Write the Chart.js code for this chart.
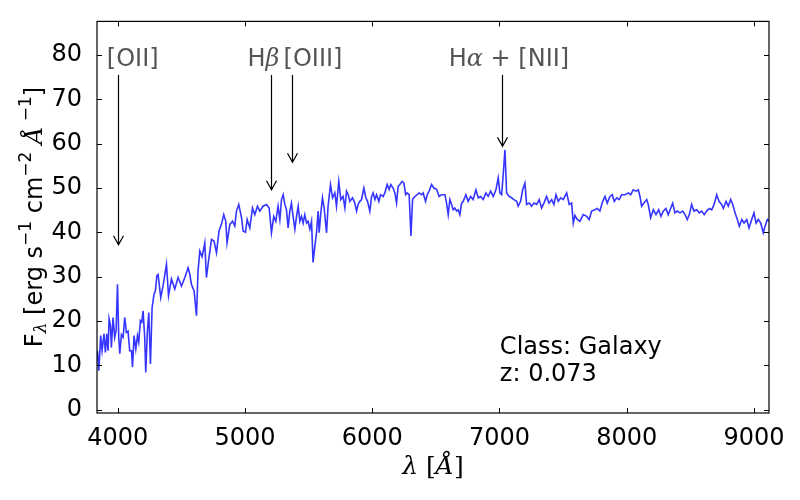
<!DOCTYPE html>
<html>
<head>
<meta charset="utf-8">
<script src="https://cdn.jsdelivr.net/npm/chart.js@4.4.1/dist/chart.umd.min.js"></script>
<style>
  body { margin: 0; background: #fff; }
</style>
</head>
<body>
<canvas id="spectrum" width="800" height="500"></canvas>
<script>
// wavelength in Angstrom, flux in erg s^-1 cm^-2 A^-1
var wavelength = [
  3840, 3851, 3866, 3877, 3892, 3903, 3914, 3924, 3932, 3943, 3950, 3963, 3976, 3987, 3998,
  4008, 4016, 4029, 4042, 4055, 4068, 4081, 4094, 4108, 4116, 4128, 4142, 4155, 4165, 4178,
  4189, 4199, 4212, 4220, 4233, 4244, 4257, 4270, 4285, 4296, 4307, 4317, 4338, 4356, 4383,
  4399, 4422, 4448, 4474, 4501, 4527, 4553, 4566, 4579, 4600, 4619, 4631, 4645, 4663, 4684,
  4697, 4715, 4737, 4757, 4776, 4796, 4815, 4833, 4849, 4859, 4881, 4902, 4920, 4933, 4951,
  4973, 4985, 5004, 5017, 5038, 5059, 5077, 5098, 5116, 5142, 5169, 5190, 5208, 5226, 5242,
  5260, 5274, 5287, 5300, 5313, 5326, 5339, 5352, 5365, 5378, 5392, 5405, 5418, 5431, 5444,
  5457, 5470, 5484, 5496, 5510, 5523, 5535, 5549, 5562, 5575, 5583, 5596, 5609, 5622, 5641,
  5653, 5672, 5688, 5706, 5719, 5737, 5753, 5771, 5785, 5798, 5811, 5824, 5845, 5863, 5877,
  5889, 5903, 5916, 5934, 5950, 5963, 5981, 5995, 6007, 6021, 6034, 6052, 6065, 6086, 6099,
  6117, 6133, 6146, 6164, 6178, 6191, 6204, 6217, 6235, 6249, 6262, 6274, 6290, 6304, 6317,
  6335, 6353, 6369, 6388, 6400, 6419, 6432, 6447, 6466, 6484, 6506, 6526, 6545, 6571, 6584,
  6597, 6610, 6624, 6636, 6649, 6663, 6675, 6689, 6702, 6715, 6736, 6754, 6773, 6793, 6815,
  6833, 6852, 6872, 6893, 6911, 6930, 6951, 6972, 6990, 7003, 7017, 7029, 7043, 7056, 7076,
  7095, 7113, 7135, 7147, 7166, 7182, 7200, 7213, 7234, 7252, 7271, 7292, 7312, 7331, 7349,
  7370, 7389, 7410, 7428, 7444, 7462, 7481, 7501, 7528, 7548, 7567, 7580, 7593, 7611, 7632,
  7658, 7685, 7705, 7724, 7750, 7768, 7789, 7811, 7829, 7847, 7868, 7886, 7902, 7921, 7941,
  7960, 7986, 8012, 8031, 8051, 8073, 8091, 8104, 8117, 8135, 8157, 8169, 8188, 8209, 8230,
  8251, 8269, 8287, 8308, 8326, 8345, 8361, 8379, 8397, 8418, 8440, 8458, 8476, 8492, 8510,
  8528, 8550, 8570, 8589, 8609, 8628, 8649, 8668, 8686, 8707, 8725, 8746, 8759, 8780, 8798,
  8817, 8833, 8851, 8869, 8885, 8904, 8922, 8943, 8961, 8982, 9000, 9016, 9034, 9053, 9073,
  9087, 9105, 9118
];
var flux = [
  13.3, 8.8, 16.7, 13.3, 17.1, 12.9, 17.1, 13.3, 20.5, 18.9, 14.0, 20.8, 16.3, 17.8, 28.3,
  16.3, 12.6, 16.9, 16.3, 20.8, 17.4, 17.7, 13.3, 13.3, 9.6, 16.7, 13.7, 16.7, 15.2, 20.1,
  19.7, 22.3, 16.3, 8.4, 17.7, 21.9, 10.3, 23.0, 26.0, 26.8, 30.2, 30.5, 25.3, 27.9, 32.8,
  25.7, 29.5, 27.2, 29.8, 27.9, 29.8, 32.0, 30.6, 28.3, 26.8, 21.2, 31.3, 35.8, 34.5, 37.6,
  29.8, 33.9, 38.4, 38.0, 35.4, 40.3, 41.8, 44.0, 42.5, 37.6, 41.8, 42.5, 41.4, 44.8, 46.3,
  43.3, 40.3, 40.0, 42.9, 41.0, 45.5, 44.0, 45.9, 44.8, 45.9, 46.3, 45.5, 39.9, 43.6, 42.5,
  45.9, 42.9, 47.4, 48.5, 46.3, 45.1, 41.0, 44.8, 46.6, 43.6, 40.7, 43.6, 45.9, 42.5, 43.6,
  42.1, 44.0, 42.1, 42.5, 40.7, 42.5, 33.2, 36.9, 39.9, 44.8, 39.9, 44.4, 47.8, 45.5, 39.9,
  45.9, 50.8, 47.8, 48.9, 45.9, 51.5, 47.4, 48.1, 45.5, 49.3, 48.5, 47.0, 47.8, 46.6, 44.8,
  46.3, 47.0, 47.4, 50.0, 47.8, 47.0, 44.8, 48.1, 48.9, 47.4, 48.5, 47.0, 48.5, 48.1, 48.9,
  50.8, 49.7, 50.8, 50.0, 48.9, 46.6, 50.4, 50.8, 51.5, 51.1, 48.5, 48.9, 48.5, 39.2, 47.4,
  48.1, 48.5, 48.9, 48.5, 48.9, 47.0, 48.5, 49.3, 50.8, 50.0, 49.7, 48.1, 48.5, 48.5, 46.6,
  44.0, 47.4, 46.3, 45.1, 45.5, 44.8, 45.1, 44.0, 46.6, 47.0, 48.5, 47.0, 48.1, 47.4, 49.6,
  47.8, 48.1, 47.4, 48.9, 48.1, 49.3, 48.1, 49.6, 52.3, 48.9, 48.5, 53.0, 58.6, 48.9, 48.1,
  47.8, 47.4, 47.0, 45.9, 47.0, 49.6, 51.1, 46.3, 46.6, 45.9, 46.6, 46.3, 47.4, 45.5, 46.6,
  48.1, 46.6, 47.4, 46.3, 48.5, 47.0, 47.8, 47.4, 48.9, 46.3, 46.6, 42.1, 43.8, 42.9, 42.5,
  44.0, 43.6, 42.9, 44.8, 45.1, 45.4, 44.8, 47.0, 48.1, 46.6, 48.1, 48.5, 47.0, 47.8, 47.4,
  48.5, 48.5, 48.9, 48.5, 49.6, 49.3, 49.6, 48.1, 45.9, 46.6, 47.4, 46.3, 43.3, 45.1, 44.0,
  45.1, 43.6, 44.8, 45.4, 44.0, 45.4, 46.6, 44.4, 44.8, 44.4, 44.8, 44.0, 42.9, 44.0, 46.3,
  44.8, 45.1, 44.4, 44.8, 44.0, 44.8, 45.4, 45.1, 46.3, 48.5, 47.0, 46.3, 45.4, 47.0, 45.9,
  47.4, 46.3, 44.4, 42.9, 41.4, 42.9, 42.1, 42.9, 41.0, 42.9, 44.4, 42.1, 42.9, 42.1, 39.9,
  41.4, 42.9, 42.5
];
var xTicks = [4000, 5000, 6000, 7000, 8000, 9000];
var yTicks = [0, 10, 20, 30, 40, 50, 60, 70, 80];

// emission line markers: arrow x, arrow top, arrow tip (data units)
var arrows = [
  { x: 4002, top: 75.5, tip: 37.2 },
  { x: 5208, top: 75.5, tip: 49.6 },
  { x: 5366, top: 75.5, tip: 55.8 },
  { x: 7017, top: 75.5, tip: 59.4 }
];

var SANS = "24px 'DejaVu Sans'";
var SANS_SMALL = "17px 'DejaVu Sans'";
var MATH_IT = "italic 24px 'DejaVu Serif'";

var lineLabels = [
  { x: 4118, y: 78.9, align: 'center', parts: [['[OII]', SANS]] },
  { x: 5020, y: 78.9, align: 'left', parts: [['H', SANS], ['\u03b2', MATH_IT]] },
  { x: 5303, y: 78.9, align: 'left', parts: [['[OIII]', SANS]] },
  { x: 6601, y: 78.9, align: 'left', parts: [['H', SANS], ['\u03b1', MATH_IT], [' + [NII]', SANS]] }
];

function partsWidth(ctx, parts) {
  var w = 0;
  parts.forEach(function (p) { ctx.font = p[1]; w += ctx.measureText(p[0]).width; });
  return w;
}

function drawParts(ctx, parts, x, y, align) {
  var w = partsWidth(ctx, parts);
  var cx = align === 'center' ? x - w / 2 : x;
  ctx.textAlign = 'left';
  ctx.textBaseline = 'middle';
  parts.forEach(function (p) {
    ctx.font = p[1];
    ctx.fillText(p[0], cx, y + (p[2] || 0));
    cx += ctx.measureText(p[0]).width;
  });
}

var decorations = {
  id: 'decorations',
  afterDraw: function (chart) {
    var ctx = chart.ctx;
    var a = chart.chartArea;
    var xs = chart.scales.x, ys = chart.scales.y;
    ctx.save();

    // frame
    ctx.strokeStyle = '#000';
    ctx.lineWidth = 1.2;
    ctx.strokeRect(a.left, a.top, a.right - a.left, a.bottom - a.top);

    // inward ticks on all four sides
    ctx.lineWidth = 1;
    ctx.beginPath();
    xTicks.forEach(function (v) {
      var px = Math.round(xs.getPixelForValue(v)) + 0.5;
      ctx.moveTo(px, a.bottom); ctx.lineTo(px, a.bottom - 5);
      ctx.moveTo(px, a.top); ctx.lineTo(px, a.top + 5);
    });
    yTicks.forEach(function (v) {
      var py = Math.round(ys.getPixelForValue(v)) + 0.5;
      ctx.moveTo(a.left, py); ctx.lineTo(a.left + 5, py);
      ctx.moveTo(a.right, py); ctx.lineTo(a.right - 5, py);
    });
    ctx.stroke();

    // arrows
    ctx.lineWidth = 1.2;
    ctx.beginPath();
    arrows.forEach(function (ar) {
      var px = Math.round(xs.getPixelForValue(ar.x)) + 0.5;
      var y0 = ys.getPixelForValue(ar.top);
      var y1 = ys.getPixelForValue(ar.tip);
      ctx.moveTo(px, y0); ctx.lineTo(px, y1);
      ctx.moveTo(px - 5, y1 - 9); ctx.lineTo(px, y1); ctx.lineTo(px + 5, y1 - 9);
    });
    ctx.stroke();

    // line labels
    ctx.fillStyle = '#555555';
    lineLabels.forEach(function (l) {
      drawParts(ctx, l.parts, xs.getPixelForValue(l.x), ys.getPixelForValue(l.y), l.align);
    });

    // class / redshift
    ctx.fillStyle = '#000';
    drawParts(ctx, [['Class: Galaxy', SANS]], xs.getPixelForValue(7003), ys.getPixelForValue(14.0), 'left');
    drawParts(ctx, [['z: 0.073', SANS]], xs.getPixelForValue(7003), ys.getPixelForValue(7.9), 'left');

    // x axis title
    var serif = "25px 'DejaVu Serif'";
    var serifIt = "italic 25px 'DejaVu Serif'";
    drawParts(ctx, [['\u03bb', serifIt], [' [', serif], ['\u00c5', serifIt], [']', serif]],
      (a.left + a.right) / 2, 467, 'center');

    // y axis title (rotated)
    ctx.translate(36, 217);
    ctx.rotate(-Math.PI / 2);
    var yParts = [
      ['F', SANS], ['\u03bb', "italic 17px 'DejaVu Serif'", 6],
      [' [erg s', SANS], ['\u22121', SANS_SMALL, -9],
      [' cm', SANS], ['\u22122', SANS_SMALL, -9],
      [' ', SANS], ['\u00c5', MATH_IT], [' \u22121', SANS_SMALL, -9],
      [']', SANS]
    ];
    drawParts(ctx, yParts, 0, 0, 'center');
    ctx.restore();
  }
};

window.onload = function () {
  var ctx = document.getElementById('spectrum').getContext('2d');
  var points = wavelength.map(function (w, i) { return { x: w, y: flux[i] }; });
  new Chart(ctx, {
    type: 'line',
    data: {
      datasets: [{
        data: points,
        borderColor: '#3535ff',
        borderWidth: 1.6,
        pointRadius: 0,
        tension: 0,
        fill: false
      }]
    },
    options: {
      responsive: false,
      animation: false,
      devicePixelRatio: 1,
      layout: { padding: { top: 18, right: 31, left: 0, bottom: 0 } },
      plugins: { legend: { display: false }, tooltip: { enabled: false } },
      scales: {
        x: {
          type: 'linear',
          min: 3837,
          max: 9118,
          grid: { display: false },
          border: { display: false },
          afterBuildTicks: function (s) { s.ticks = xTicks.map(function (v) { return { value: v }; }); },
          afterFit: function (s) { s.height = 87; },
          ticks: { color: '#000', padding: 3, maxRotation: 0, autoSkip: false,
            callback: function (v) { return String(v); },
            font: { family: 'DejaVu Sans', size: 24 } }
        },
        y: {
          type: 'linear',
          min: -0.76,
          max: 87.6,
          grid: { display: false },
          border: { display: false },
          afterBuildTicks: function (s) { s.ticks = yTicks.map(function (v) { return { value: v }; }); },
          afterFit: function (s) { s.width = 97; },
          ticks: { color: '#000', padding: 7, autoSkip: false,
            callback: function (v) { return String(v); },
            font: { family: 'DejaVu Sans', size: 24 } }
        }
      }
    },
    plugins: [decorations]
  });
};
</script>
</body>
</html>
